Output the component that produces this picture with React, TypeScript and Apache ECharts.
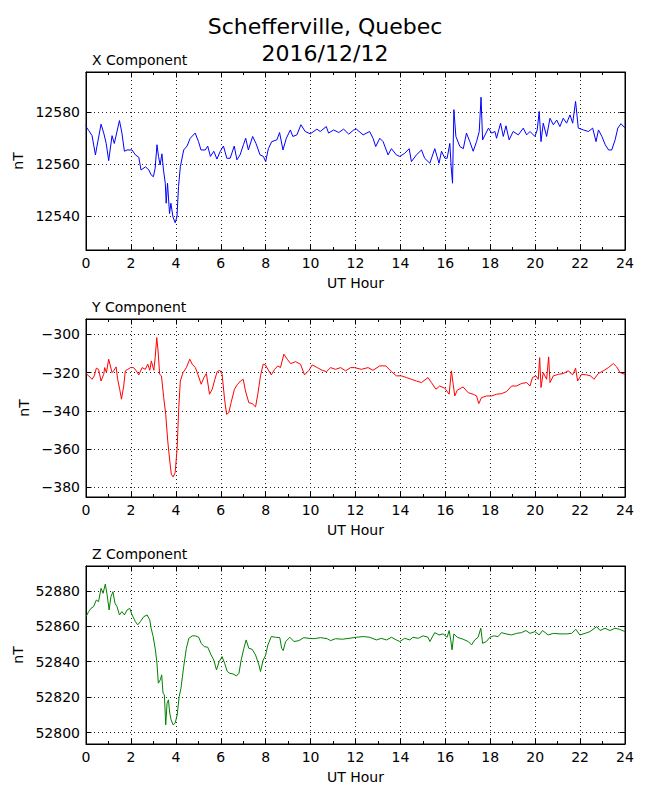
import React, { useEffect, useRef } from 'react';
import * as echarts from 'echarts';

const TITLE_LINES = ['Schefferville, Quebec', '2016/12/12'];
const PANEL_TITLES = ['X Component', 'Y Component', 'Z Component'];
const X_AXIS_NAME = 'UT Hour';
const Y_AXIS_NAME = 'nT';
const COLORS = ['#0000ff', '#ff0000', '#008000'];

// X component
const xHours = [
  0, 0.12, 0.27, 0.42, 0.49, 0.67, 0.79, 0.9, 1.01, 1.16, 1.26, 1.49, 1.6, 1.71, 1.83, 2.05, 2.2, 2.35, 2.45, 2.65,
  2.8, 2.9, 3.0, 3.08, 3.16, 3.23, 3.3, 3.38, 3.45, 3.53, 3.57, 3.63, 3.72, 3.78, 3.87, 3.97, 4.05, 4.12, 4.2, 4.35,
  4.5, 4.64, 4.86, 5.01, 5.12, 5.31, 5.42, 5.54, 5.69, 5.83, 5.98, 6.12, 6.27, 6.42, 6.6, 6.72, 6.86, 7.01, 7.11, 7.23,
  7.42, 7.57, 7.75, 7.9, 8.0, 8.12, 8.27, 8.5, 8.62, 8.77, 8.92, 9.1, 9.21, 9.39, 9.57, 9.76, 9.99, 10.28, 10.43, 10.7,
  10.8, 11.03, 11.25, 11.47, 11.7, 11.92, 12.04, 12.34, 12.63, 12.78, 12.9, 13.08, 13.23, 13.45, 13.6, 13.82, 13.97, 14.19, 14.39, 14.49,
  14.71, 14.94, 15.08, 15.31, 15.53, 15.63, 15.72, 15.83, 15.98, 16.08, 16.2, 16.26, 16.32, 16.38, 16.47, 16.65, 16.8, 16.94, 17.09, 17.24,
  17.39, 17.51, 17.59, 17.66, 17.77, 17.92, 18.06, 18.21, 18.28, 18.46, 18.58, 18.7, 18.84, 19.02, 19.25, 19.47, 19.62, 19.77, 19.99, 20.09,
  20.18, 20.26, 20.36, 20.51, 20.66, 20.81, 20.96, 21.1, 21.25, 21.4, 21.55, 21.67, 21.8, 21.92, 22.15, 22.37, 22.56, 22.71, 22.82, 22.97,
  23.12, 23.27, 23.41, 23.56, 23.68, 23.82, 24.0,
];
const xValues = [
  12574.5, 12573, 12571, 12563.6, 12567, 12575.4, 12572, 12568, 12561.4, 12571, 12568, 12576.8, 12572, 12565, 12565.5, 12565.5, 12563.6, 12562.7, 12557.8, 12559,
  12557.8, 12555.9, 12555.2, 12558.5, 12567.5, 12563, 12559.7, 12564, 12557.8, 12552.7, 12545, 12552.7, 12541, 12545, 12539.8, 12537.5, 12539.8, 12551.4, 12559, 12565.5,
  12567, 12570, 12572, 12568.7, 12565.5, 12565.5, 12567, 12563, 12565, 12562, 12565, 12567, 12562.3, 12562.3, 12567, 12561.7, 12563.6, 12567.5, 12570, 12565.5,
  12570.7, 12568, 12563.6, 12563, 12561, 12566, 12568.7, 12569.4, 12572.2, 12565.5, 12570, 12573.2, 12570.7, 12571.3, 12575.2, 12572.6, 12571.7, 12573.5, 12572.6, 12574.5,
  12572, 12573.2, 12572.2, 12573.5, 12571.6, 12573.2, 12573.5, 12571.3, 12572.6, 12570, 12566.8, 12570, 12568.7, 12563.6, 12566, 12563.6, 12563, 12564.2, 12566, 12561,
  12563.6, 12565.5, 12562.3, 12560.4, 12566, 12563, 12560.4, 12565, 12562.3, 12562.3, 12568, 12559, 12552.7, 12581, 12570.7, 12566.8, 12566, 12572, 12568.7, 12565,
  12568.7, 12572.6, 12585.8, 12569.4, 12571.3, 12573.9, 12572, 12572.6, 12570, 12575.8, 12570.7, 12574.8, 12569.4, 12572.6, 12571.3, 12573.9, 12571.3, 12572.6, 12570.7, 12573.2,
  12580.3, 12568.7, 12575.8, 12570.7, 12577.7, 12575.2, 12577, 12574.5, 12577.7, 12575.8, 12579, 12575.8, 12584.2, 12573.9, 12573.2, 12572.6, 12573.9, 12568.7, 12573.2, 12570.7,
  12567.5, 12565.5, 12565.5, 12569.4, 12573.9, 12575.6, 12574,
];

// Y component
const yHours = [
  0, 0.12, 0.27, 0.37, 0.46, 0.56, 0.67, 0.79, 0.83, 0.91, 1.01, 1.16, 1.23, 1.34, 1.41, 1.5, 1.58, 1.68, 1.75, 1.86,
  1.98, 2.12, 2.24, 2.35, 2.5, 2.64, 2.75, 2.84, 2.91, 3.02, 3.08, 3.15, 3.21, 3.28, 3.36, 3.46, 3.55, 3.64, 3.73, 3.8,
  3.88, 3.97, 4.06, 4.13, 4.2, 4.32, 4.47, 4.62, 4.73, 4.87, 4.98, 5.13, 5.25, 5.36, 5.5, 5.62, 5.74, 5.84, 5.96, 6.06,
  6.17, 6.26, 6.36, 6.46, 6.61, 6.73, 6.88, 7.0, 7.1, 7.25, 7.4, 7.55, 7.65, 7.77, 7.89, 7.99, 8.1, 8.25, 8.4, 8.54,
  8.66, 8.81, 8.96, 9.11, 9.33, 9.55, 9.73, 9.93, 10.07, 10.3, 10.52, 10.71, 10.89, 11.11, 11.34, 11.56, 11.78, 11.96, 12.26, 12.56,
  12.78, 13.08, 13.35, 13.6, 13.82, 14.04, 14.27, 14.49, 14.71, 14.94, 15.23, 15.38, 15.58, 15.75, 15.98, 16.17, 16.27, 16.35, 16.42, 16.53,
  16.79, 17.02, 17.24, 17.39, 17.49, 17.61, 17.83, 18.06, 18.28, 18.5, 18.73, 18.95, 19.17, 19.39, 19.62, 19.77, 19.88, 20.03, 20.14, 20.2,
  20.26, 20.36, 20.51, 20.6, 20.66, 20.81, 21.03, 21.25, 21.47, 21.67, 21.8, 21.89, 22.07, 22.29, 22.47, 22.62, 22.81, 23.03, 23.26, 23.48,
  23.63, 23.78, 24.0,
];
const yValues = [
  -320.5, -321.7, -323.5, -321.7, -317.7, -318.3, -324.4, -320.9, -317.4, -320, -313, -320, -319.1, -317, -323.5, -328.7, -333.9, -327, -319.1, -318.3,
  -317.4, -317.4, -319.1, -321.2, -317.4, -318.3, -315.6, -318.8, -313.9, -318.8, -312.2, -301.7, -308.7, -320.9, -321.7, -333, -341.8, -355.7, -366.2, -373.1,
  -374.5, -372.3, -359.2, -338.3, -324.4, -320, -317.4, -313, -315.6, -317.4, -320.9, -326.1, -322.6, -320.5, -331.3, -328.7, -323.5, -319.5, -318.8, -320.9,
  -333.9, -341.8, -340.9, -335.7, -328.7, -326.4, -324.4, -323.5, -329.6, -335.7, -336.2, -337.9, -331.3, -321.7, -315.6, -316, -318.3, -321.2, -318.3, -316.5,
  -317.4, -310.4, -313, -315.3, -314.3, -315.6, -321.2, -318.8, -316, -317.4, -318.8, -319.5, -317.4, -318.3, -317.4, -319.1, -317.4, -317.4, -318.3, -317.4,
  -318.8, -316.5, -316.5, -319.5, -321.7, -321.7, -322.6, -323.5, -324.4, -325.2, -322.6, -325.2, -328.7, -327, -328.2, -331.3, -319.1, -326.1, -332.2, -329.2,
  -327.5, -330.5, -331.3, -332.2, -336.2, -333.1, -332.2, -332.2, -331.3, -331, -329.9, -327, -327, -325.7, -325.2, -327, -322.6, -321.7, -323.5, -312.2,
  -327.8, -320, -323.5, -311.8, -325.2, -321.7, -320.9, -320.5, -319.1, -321.2, -317.7, -324.4, -320.9, -321.2, -321.7, -323.5, -320.5, -319.1, -317.4, -315.3,
  -317, -320, -320.9,
];

// Z component
const zHours = [
  0, 0.12, 0.22, 0.34, 0.46, 0.56, 0.67, 0.76, 0.86, 0.94, 1.03, 1.11, 1.2, 1.29, 1.38, 1.49, 1.6, 1.71, 1.83, 1.95,
  2.05, 2.2, 2.3, 2.42, 2.57, 2.72, 2.84, 2.9, 2.99, 3.09, 3.16, 3.22, 3.31, 3.37, 3.43, 3.49, 3.55, 3.61, 3.67, 3.73,
  3.79, 3.88, 3.97, 4.06, 4.15, 4.23, 4.35, 4.47, 4.58, 4.73, 4.87, 5.02, 5.13, 5.27, 5.42, 5.57, 5.69, 5.81, 5.93, 6.06,
  6.17, 6.29, 6.4, 6.55, 6.7, 6.81, 6.91, 7.03, 7.13, 7.25, 7.4, 7.55, 7.7, 7.77, 7.89, 7.99, 8.1, 8.25, 8.44, 8.63,
  8.71, 8.78, 8.89, 9.08, 9.26, 9.48, 9.7, 9.93, 10.15, 10.45, 10.74, 10.89, 11.11, 11.41, 11.71, 12.04, 12.34, 12.63, 12.93, 13.15,
  13.38, 13.6, 13.82, 13.97, 14.19, 14.42, 14.56, 14.79, 15.01, 15.23, 15.31, 15.53, 15.72, 15.9, 16.08, 16.17, 16.24, 16.3, 16.38, 16.53,
  16.79, 17.02, 17.17, 17.31, 17.46, 17.58, 17.66, 17.83, 17.98, 18.16, 18.35, 18.5, 18.7, 18.95, 19.17, 19.39, 19.59, 19.77, 19.99, 20.18,
  20.33, 20.58, 20.81, 21.1, 21.4, 21.62, 21.81, 21.99, 22.22, 22.44, 22.74, 22.89, 23.11, 23.33, 23.55, 23.75, 24.0,
];
const zValues = [
  52865.4, 52868.3, 52870.1, 52871.1, 52874.8, 52873.9, 52881.4, 52878.6, 52883.8, 52877.7, 52869.2, 52876.7, 52879.5, 52873, 52871.1, 52866.4, 52868.3, 52866.4, 52869.2, 52870.1,
  52866.4, 52862.6, 52860.8, 52862.6, 52865.4, 52866.4, 52863.6, 52858.9, 52854.2, 52846.7, 52839.2, 52827.9, 52829.8, 52832.6, 52822.3, 52821.3, 52804.4, 52816.6, 52818.5, 52811,
  52807.2, 52804.4, 52805.4, 52810, 52820.4, 52825.1, 52837.3, 52847.6, 52853.2, 52854.6, 52854.6, 52853.8, 52850.4, 52848.5, 52848.2, 52843.8, 52841, 52835.4, 52840.1, 52842.9,
  52839.2, 52834.5, 52833.5, 52833.1, 52832, 52833.5, 52841, 52847.6, 52852.3, 52847.6, 52847, 52843.8, 52838.2, 52834.5, 52841, 52843.3, 52849.5, 52854.2, 52853.8, 52853.6,
  52847.6, 52846.3, 52851.4, 52853.8, 52851.4, 52851.9, 52853.6, 52853.2, 52853, 52853.6, 52853, 52851.9, 52853, 52852.7, 52853.2, 52853.8, 52854.2, 52853.8, 52852.3, 52853.2,
  52852.3, 52853.8, 52852.3, 52851.4, 52853.2, 52852.3, 52853.8, 52853.2, 52854.6, 52853.8, 52851.4, 52856.4, 52855.1, 52855.7, 52853.8, 52857.6, 52852.3, 52846.7, 52855.7, 52853.8,
  52852.7, 52851.4, 52849.5, 52852.3, 52853.8, 52858.9, 52850.4, 52851.4, 52853.8, 52854.6, 52854.2, 52856.4, 52855.7, 52855.1, 52856, 52856.4, 52857.6, 52856, 52857, 52855.1,
  52857.6, 52855.1, 52856, 52855.7, 52855.7, 52856, 52858.3, 52855.1, 52856, 52857, 52859.8, 52857.6, 52858.9, 52857.6, 52858.9, 52858.3, 52857,
];

const HOUR_MIN = 0;
const HOUR_MAX = 24;
const HOUR_STEP = 2;
const Y_RANGES = [
  [12527, 12595.5],
  [-385, -292],
  [52793.6, 52894],
];
const Y_TICKS = [
  [12540, 12560, 12580],
  [-380, -360, -340, -320, -300],
  [52800, 52820, 52840, 52860, 52880],
];

const FONT = '"DejaVu Sans", "Liberation Sans", sans-serif';
const GRID_TOPS = [72, 319, 566];
const GRID_H = 178;
const GRID_LEFT = 86;
const GRID_RIGHT = 25;
const NAME_GAPS = [57, 50, 57];
const TITLE_TOPS = [15, 42];

function pairs(h: number[], v: number[]) {
  return h.map((x, i) => [x, v[i]]);
}

export default function App() {
  const ref = useRef<HTMLDivElement>(null);
  useEffect(() => {
    if (!ref.current) return;
    const chart = echarts.init(ref.current, undefined, { renderer: 'svg' });
    const datasets = [pairs(xHours, xValues), pairs(yHours, yValues), pairs(zHours, zValues)];
    const black = '#000';
    const grids = GRID_TOPS.map((t) => ({
      left: GRID_LEFT,
      right: GRID_RIGHT,
      top: t,
      height: GRID_H,
      show: true,
      borderColor: black,
      borderWidth: 1,
      backgroundColor: 'transparent',
    }));
    const dotted = { color: '#222', width: 1, type: [1, 3] as any };
    const xAxes: any[] = [];
    const yAxes: any[] = [];
    [0, 1].forEach((side) => {
      GRID_TOPS.forEach((_, i) => {
        xAxes.push({
          type: 'value',
          gridIndex: i,
          position: side === 0 ? 'bottom' : 'top',
          min: HOUR_MIN,
          max: HOUR_MAX,
          interval: HOUR_STEP,
          name: side === 0 ? X_AXIS_NAME : '',
          nameLocation: 'middle',
          nameGap: 26,
          nameTextStyle: { fontFamily: FONT, fontSize: 14, color: black },
          axisLine: { show: true, onZero: false, lineStyle: { color: black, width: 1 } },
          axisTick: { show: true, inside: true, length: 5.5, lineStyle: { color: black } },
          minorTick: { show: true, splitNumber: 2, length: 3, lineStyle: { color: black } },
          axisLabel: { show: side === 0, fontFamily: FONT, fontSize: 14, color: black, margin: 6 },
          splitLine: { show: side === 0, lineStyle: dotted },
        });
        yAxes.push({
          type: 'value',
          gridIndex: i,
          position: side === 0 ? 'left' : 'right',
          min: Y_RANGES[i][0],
          max: Y_RANGES[i][1],
          name: side === 0 ? Y_AXIS_NAME : '',
          nameLocation: 'middle',
          nameRotate: 90,
          nameGap: NAME_GAPS[i],
          nameTextStyle: { fontFamily: FONT, fontSize: 14, color: black },
          axisLine: { show: true, onZero: false, lineStyle: { color: black, width: 1 } },
          axisTick: { show: true, inside: true, length: 5.5, customValues: Y_TICKS[i], lineStyle: { color: black } },
          axisLabel: {
            show: side === 0,
            customValues: Y_TICKS[i],
            fontFamily: FONT,
            fontSize: 14,
            color: black,
            margin: 6,
            formatter: (v: number) => String(v).replace('-', '\u2212'),
          },
          splitLine: { show: side === 0, lineStyle: dotted },
        });
      });
    });
    const series = datasets.map((d, i) => ({
      type: 'line',
      xAxisIndex: i,
      yAxisIndex: i,
      data: d,
      showSymbol: false,
      symbol: 'none',
      lineStyle: { color: COLORS[i], width: 1 },
      itemStyle: { color: COLORS[i] },
      z: 3,
    }));
    const graphics = PANEL_TITLES.map((t, i) => ({
      type: 'text',
      left: 92,
      top: GRID_TOPS[i] - 19,
      style: { text: t, font: `14px ${FONT}`, fill: black },
    }));
    chart.setOption({
      animation: false,
      backgroundColor: '#fff',
      title: TITLE_LINES.map((t, i) => ({
        text: t,
        left: 'center',
        top: TITLE_TOPS[i],
        padding: 0,
        textStyle: { fontFamily: FONT, fontSize: 22, fontWeight: 'normal', color: black },
      })),
      grid: grids,
      xAxis: xAxes,
      yAxis: yAxes,
      series,
      graphic: graphics,
    });
    return () => chart.dispose();
  }, []);
  return <div ref={ref} style={{ position: 'absolute', left: 0, top: 0, width: 650, height: 800 }} />;
}
